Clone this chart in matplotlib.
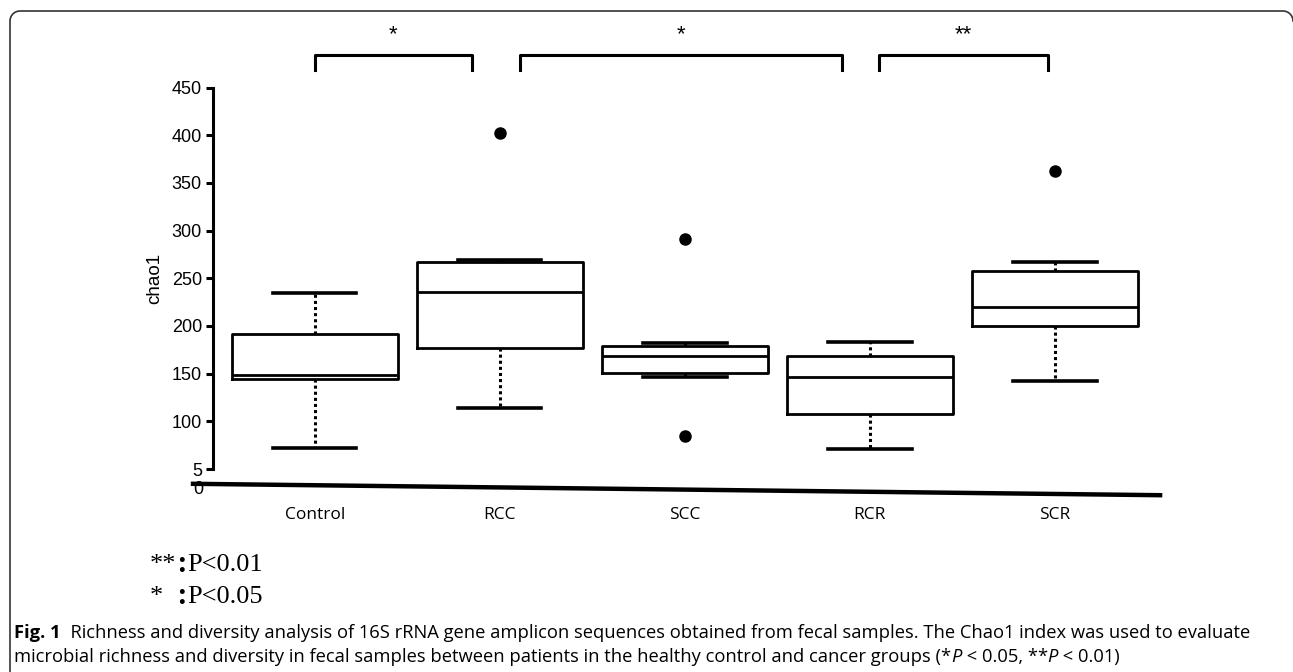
import numpy as np
import matplotlib
matplotlib.use('Agg')
import matplotlib.pyplot as plt
from matplotlib.lines import Line2D
from matplotlib.text import Annotation

# values
groups = ['Control', 'RCC', 'SCC', 'RCR', 'SCR']
whislo = [72, 114, 146, 71, 142]
q1 = [144, 177, 151, 108, 200]
med = [149, 236, 168, 146, 220]
q3 = [192, 267, 179, 169, 258]
whishi = [235, 269, 182, 183, 267]
fliers = [[], [402], [291, 85], [], [362]]

yticks = [50, 100, 150, 200, 250, 300, 350, 400, 450]
ytick_labels = ['5', '100', '150', '200', '250', '300', '350', '400', '450']

# significance brackets: (left, right, label)
brackets = [(1.0, 1.85, '*'), (2.11, 3.85, '*'), (4.05, 4.96, '**')]

W, H = 1293, 672
fig = plt.figure(figsize=(W / 100, H / 100), dpi=100)
fig.patch.set_facecolor('white')

# frame: left side + top with rounded corners (pixel coords from top-left)
r = 10
t = np.linspace(0, np.pi / 2, 12)
fx = [10] + list(10 + r - r * np.cos(t)) + list(1283 + r * np.sin(t))
fy = [672] + list(11 + r - r * np.sin(t)) + list(11 + r - r * np.cos(t))
fig.add_artist(Line2D(np.array(fx) / W, 1 - np.array(fy) / H,
                      transform=fig.transFigure, color='#333333', linewidth=1.2))

ax = fig.add_axes([213 / W, 1 - 469 / H, (1166 - 213) / W, (469 - 87.5) / H])

stats = []
for i in range(len(groups)):
    stats.append(dict(label=groups[i], whislo=whislo[i], q1=q1[i], med=med[i],
                      q3=q3[i], whishi=whishi[i], fliers=fliers[i]))

pos = list(range(1, len(groups) + 1))
ax.bxp(stats, positions=pos, widths=0.9, capwidths=0.45,
       boxprops=dict(color='black', linewidth=2.0),
       medianprops=dict(color='black', linewidth=2.0),
       whiskerprops=dict(color='black', linewidth=2.2, linestyle=(0, (1, 1))),
       capprops=dict(color='black', linewidth=2.6),
       flierprops=dict(marker='o', markerfacecolor='black', markeredgecolor='black',
                       markersize=8))

ax.set_xlim(0.45, 5.6)
ax.set_ylim(50, 450)
for s in ['top', 'right', 'bottom']:
    ax.spines[s].set_visible(False)
ax.spines['left'].set_linewidth(2.2)
ax.set_yticks(yticks)
ax.set_yticklabels(ytick_labels, fontsize=13, family='Liberation Sans')
ax.tick_params(axis='y', length=5, width=2.2, pad=3)
ax.set_xticks([])
ax.set_ylabel('chao1', fontsize=13.5, family='Liberation Sans', labelpad=6)

# stray "0" under the axis and the slanted base line
ax.text(0.4, 28, '0', ha='right', va='center', fontsize=13,
        family='Liberation Sans', clip_on=False)
ax.plot([0.33, 5.58], [34.5, 22.5], color='black', linewidth=3.2,
        solid_capstyle='butt', clip_on=False)

for p, g in zip(pos, groups):
    ax.text(p, 2, g, ha='center', va='center', fontsize=12.5, family='Open Sans',
            clip_on=False)

for x0, x1, lab in brackets:
    ax.plot([x0, x0, x1, x1], [468, 484, 484, 468], color='black', linewidth=2.2,
            clip_on=False)
    ax.text((x0 + x1) / 2, 505, lab, ha='center', va='center', fontsize=16,
            family='Liberation Sans', clip_on=False)

# significance key
serif = ['Liberation Serif', 'DejaVu Serif']
key_marks = ['**', '*']
key_text = ['P<0.01', 'P<0.05']
key_y = [565, 597]
for mark, txt, yy in zip(key_marks, key_text, key_y):
    fig.text(150 / W, 1 - yy / H, mark, fontsize=19, family=serif,
             ha='left', va='center')
    fig.text(181 / W, 1 - yy / H, ':', fontsize=19, family='Noto Sans CJK JP',
             fontweight='bold', ha='center', va='center')
    fig.text(187 / W, 1 - yy / H, txt, fontsize=19, family=serif,
             ha='left', va='center')


def chain_text(x, y, pieces, size):
    last = None
    for txt, weight, style in pieces:
        kw = dict(fontsize=size, family='Open Sans', fontweight=weight,
                  fontstyle=style, va='bottom', ha='left')
        if last is None:
            last = fig.text(x, y, txt, **kw)
        else:
            last = fig.add_artist(Annotation(
                txt, xy=(1, 0), xycoords=last, annotation_clip=False, **kw))
    return last


cap1 = [('Fig. 1', 'bold', 'normal'),
        ('  Richness and diversity analysis of 16S rRNA gene amplicon sequences obtained '
         'from fecal samples. The Chao1 index was used to evaluate', 'normal', 'normal')]
cap2 = [('microbial richness and diversity in fecal samples between patients in the healthy '
         'control and cancer groups (*', 'normal', 'normal'),
        ('P', 'normal', 'italic'),
        (' < 0.05, **', 'normal', 'normal'),
        ('P', 'normal', 'italic'),
        (' < 0.01)', 'normal', 'normal')]
chain_text(14 / W, 1 - 642 / H, cap1, 13.2)
chain_text(14 / W, 1 - 666 / H, cap2, 13.2)

fig.savefig('out.png', dpi=100, facecolor='white')
